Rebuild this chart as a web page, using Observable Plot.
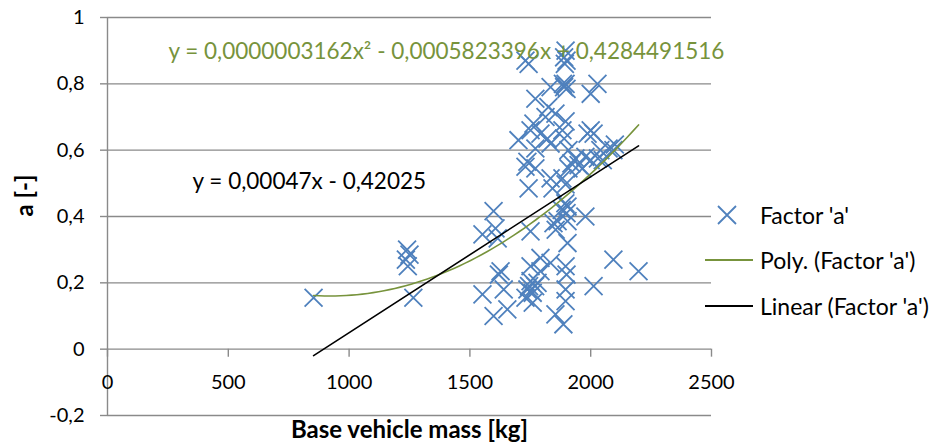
<!DOCTYPE html>
<html>
<head>
<meta charset="utf-8">
<script src="https://cdn.jsdelivr.net/npm/d3@7"></script>
<script src="https://cdn.jsdelivr.net/npm/@observablehq/plot@0.6"></script>
<style>
  body { margin: 0; background: #fff; }
  #wrap { position: relative; width: 944px; height: 448px; font-family: Lato, "Open Sans", sans-serif; color: #000; }
  .leg { position: absolute; left: 700px; width: 240px; height: 20px; font-size: 23px; line-height: 20px; white-space: nowrap; }
  .leg svg { position: absolute; left: 0; top: 0; }
  .leg span { position: absolute; left: 60px; top: 0; }
</style>
</head>
<body>
<div id="wrap"></div>
<script>
// ---- data ----
const massKg = [
  853, 1240, 1250, 1235, 1243, 1266,
  1552, 1598, 1606, 1615, 1552, 1598, 1627, 1620, 1640, 1655,
  1751, 1751, 1751, 1738, 1760, 1730, 1792, 1834, 1846, 1854, 1792, 1770, 1780, 1760, 1745, 1855,
  1743, 1730, 1896, 1890, 1900, 1893, 1896, 1890, 1900, 1885, 2028, 2000,
  1834, 1771, 1825, 1854, 1813, 1763, 1701, 1751, 1792, 1821, 1834, 1771,
  1738, 1730, 1771, 1743, 1834, 1842,
  1896, 1883, 1890, 2000, 1987, 2012, 1908, 1937, 1978, 2000, 2094, 2074, 2100,
  1908, 1966, 1883, 1896, 1950, 2030, 1920, 2050, 2040,
  1904, 1900, 1904, 1978, 1904, 1896, 1900, 1896, 1896, 1887, 2094, 2198, 2012, 1863, 1880, 1895
];
const factorA = [
  0.155, 0.300, 0.285, 0.270, 0.250, 0.155,
  0.346, 0.416, 0.364, 0.334, 0.165, 0.100, 0.235, 0.225, 0.180, 0.120,
  0.355, 0.250, 0.205, 0.180, 0.140, 0.155, 0.235, 0.260, 0.380, 0.105, 0.275, 0.190, 0.200, 0.170, 0.190, 0.360,
  0.860, 0.870, 0.900, 0.880, 0.870, 0.860, 0.800, 0.790, 0.785, 0.800, 0.800, 0.770,
  0.790, 0.755, 0.730, 0.710, 0.700, 0.680, 0.630, 0.660, 0.650, 0.635, 0.620, 0.605,
  0.565, 0.550, 0.545, 0.485, 0.515, 0.485,
  0.687, 0.660, 0.635, 0.660, 0.650, 0.650, 0.600, 0.575, 0.580, 0.570, 0.600, 0.605, 0.617,
  0.545, 0.545, 0.515, 0.497, 0.555, 0.575, 0.560, 0.570, 0.600,
  0.430, 0.410, 0.386, 0.400, 0.320, 0.250, 0.225, 0.180, 0.145, 0.075, 0.270, 0.235, 0.190, 0.386, 0.420, 0.440
];
const xTicks = [0, 500, 1000, 1500, 2000, 2500];
const yTicks = [-0.2, 0, 0.2, 0.4, 0.6, 0.8, 1];
const gridValues = [-0.2, 0.2, 0.4, 0.6, 0.8, 1];
const polyCoef = [0.0000003162, -0.0005823396, 0.4284491516]; // a x^2 + b x + c
const linCoef = [0.00047, -0.42025];                           // m x + q
const seriesLabels = ["Factor 'a'", "Poly. (Factor 'a')", "Linear (Factor 'a')"];
const polyEquation = "y = 0,0000003162x² - 0,0005823396x + 0,4284491516";
const linEquation = "y = 0,00047x - 0,42025";
const xTitle = "Base vehicle mass [kg]";
const yTitle = "a [-]";

// ---- derived tables ----
const points = massKg.map((m, i) => ({m, a: factorA[i]}));
const [xMin, xMax] = d3.extent(massKg);
const polyLine = d3.range(0, 61).map(k => {
  const x = xMin + (xMax - xMin) * k / 60;
  return {x, y: polyCoef[0] * x * x + polyCoef[1] * x + polyCoef[2]};
});
const linLine = [xMin, xMax].map(x => ({x, y: linCoef[0] * x + linCoef[1]}));

const BLUE = "#4F81BD", GREEN = "#77933C", GRID = "#8a8a8a";
const TICK_FONT = 20, EQ_FONT = 22.5, TITLE_FONT = 24;
const comma = d => String(d).replace(".", ",");

const chart = Plot.plot({
  width: 944,
  height: 448,
  marginLeft: 107,
  marginRight: 233,
  marginTop: 17,
  marginBottom: 33,
  style: {fontFamily: "Lato, 'Open Sans', sans-serif", color: "#000", background: "#fff"},
  x: {domain: [0, 2500], axis: null},
  y: {domain: [-0.2, 1], axis: null},
  marks: [
    Plot.ruleY(gridValues, {stroke: GRID, strokeWidth: 1.4}),
    Plot.ruleY([0], {stroke: GRID, strokeWidth: 1.4}),
    Plot.ruleX([0], {stroke: GRID, strokeWidth: 1.4}),
    // y ticks
    Plot.ruleY(yTicks, {x1: 0, x2: 0, insetLeft: -7, stroke: GRID, strokeWidth: 1.4}),
    Plot.axisY(yTicks, {tickSize: 0, tickPadding: 23, tickFormat: comma, fontSize: TICK_FONT, label: null}),
    // x axis at y = 0
    Plot.ruleX(xTicks, {x: d => d, y1: 0, y2: 0, insetBottom: -8, stroke: GRID, strokeWidth: 1.4}),
    Plot.text(xTicks, {x: d => d, y: 0, dy: 33, text: d => String(d), fontSize: TICK_FONT, fill: "#000"}),
    // data
    Plot.dot(points, {x: "m", y: "a", symbol: "times", r: 8.2, stroke: BLUE, strokeWidth: 1.8}),
    Plot.line(polyLine, {x: "x", y: "y", stroke: GREEN, strokeWidth: 1.6}),
    Plot.line(linLine, {x: "x", y: "y", stroke: "#000", strokeWidth: 1.6}),
    // equations
    Plot.text([polyEquation], {x: 252, y: 0.898, text: d => d, textAnchor: "start", fill: GREEN, fontSize: EQ_FONT}),
    Plot.text([linEquation], {x: 352, y: 0.506, text: d => d, textAnchor: "start", fill: "#000", fontSize: EQ_FONT}),
    // axis titles
    Plot.text([yTitle], {frameAnchor: "left", dx: -82, rotate: -90, text: d => d, fontSize: TITLE_FONT, fontWeight: "bold", fill: "#000"}),
    Plot.text([xTitle], {frameAnchor: "bottom", dy: 22, text: d => d, fontSize: TITLE_FONT, fontWeight: "bold", fill: "#000"})
  ]
});

const wrap = d3.select("#wrap");
wrap.node().appendChild(chart);

// legend (HTML overlay on the right)
const legTops = [205, 250, 296];
seriesLabels.forEach((lab, i) => {
  const item = wrap.append("div").attr("class", "leg").style("top", legTops[i] + "px");
  const svg = item.append("svg").attr("width", 58).attr("height", 20);
  if (i === 0) {
    svg.append("path").attr("d", "M18,1 L36,19 M18,19 L36,1").attr("stroke", BLUE).attr("stroke-width", 1.8).attr("fill", "none");
  } else {
    svg.append("line").attr("x1", 5).attr("x2", 53).attr("y1", 10).attr("y2", 10)
      .attr("stroke", i === 1 ? GREEN : "#000").attr("stroke-width", 1.8);
  }
  item.append("span").text(lab);
});
</script>
</body>
</html>
